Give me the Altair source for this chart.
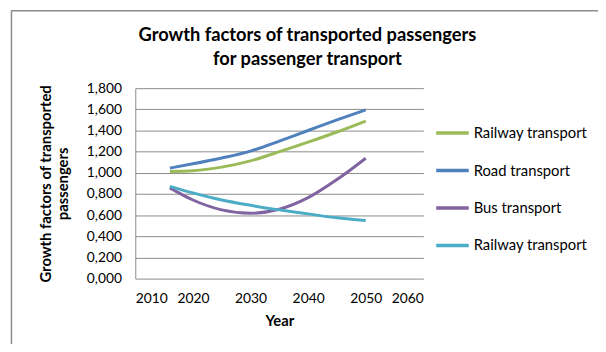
import altair as alt
import pandas as pd

years = [2016, 2020, 2025, 2030, 2035, 2040, 2045, 2050]
railway = [1.013, 1.020, 1.054, 1.113, 1.200, 1.290, 1.386, 1.490]
road = [1.045, 1.085, 1.140, 1.205, 1.300, 1.400, 1.500, 1.595]
bus = [0.858, 0.743, 0.650, 0.618, 0.656, 0.765, 0.936, 1.138]
railway2 = [0.873, 0.810, 0.743, 0.693, 0.650, 0.612, 0.575, 0.550]

series_ids = ["s1", "s2", "s3", "s4"]
series_names = ["Railway transport", "Road transport", "Bus transport", "Railway transport"]
series_values = [railway, road, bus, railway2]
colors = ["#9BBB59", "#4F81BD", "#8064A2", "#4BACC6"]
title_lines = ["Growth factors of transported passengers", "for passenger transport"]

rows = []
for sid, vals in zip(series_ids, series_values):
    for y, v in zip(years, vals):
        rows.append({"year": y, "value": v, "series": sid})
df = pd.DataFrame(rows)

label_expr = " : ".join(
    [f"datum.value == '{sid}' ? '{name}'" for sid, name in zip(series_ids[:-1], series_names[:-1])]
) + f" : '{series_names[-1]}'"

FONT = "Lato"

lines = alt.Chart(df).mark_line(strokeWidth=3, interpolate="monotone").encode(
    x=alt.X("year:Q", scale=alt.Scale(domain=[2010, 2060], nice=False),
            axis=alt.Axis(values=[2010, 2020, 2030, 2040, 2050, 2060], format="d",
                          title="Year", grid=False, ticks=False, domain=False,
                          labelPadding=13, titlePadding=9)),
    y=alt.Y("value:Q", scale=alt.Scale(domain=[0, 1.8], nice=False),
            axis=alt.Axis(values=[0, 0.2, 0.4, 0.6, 0.8, 1.0, 1.2, 1.4, 1.6, 1.8],
                          labelExpr="replace(format(datum.value, '.3f'), '.', ',')",
                          title=["Growth factors of transported", "passengers"],
                          grid=True, ticks=False, domain=True,
                          labelPadding=14, titlePadding=16)),
    color=alt.Color("series:N", scale=alt.Scale(domain=series_ids, range=colors),
                    legend=alt.Legend(title=None, orient="none", legendX=303, legendY=27,
                                      symbolType="stroke", symbolSize=1089,
                                      symbolStrokeWidth=3.5, labelExpr=label_expr,
                                      labelFontSize=15, labelFont=FONT, labelColor="#000",
                                      rowPadding=11, labelOffset=3)),
)

one = alt.Data(values=[{}])
border_top = alt.Chart(one).mark_rule(color="#8c8c8c", strokeWidth=1.5).encode(
    x=alt.value(-126), x2=alt.value(470), y=alt.value(-78.5))
border_left = alt.Chart(one).mark_rule(color="#8c8c8c", strokeWidth=1.5).encode(
    x=alt.value(-125.5), y=alt.value(-78.5), y2=alt.value(270))

title1 = alt.Chart(one).mark_text(
    text=title_lines[0], font=FONT, fontSize=18.5, fontWeight="bold", color="#000",
    align="center", baseline="middle").encode(x=alt.value(174.5), y=alt.value(-54))
title2 = alt.Chart(one).mark_text(
    text=title_lines[1], font=FONT, fontSize=18.5, fontWeight="bold", color="#000",
    align="center", baseline="middle").encode(x=alt.value(174.5), y=alt.value(-30))

chart = alt.layer(lines, border_top, border_left, title1, title2).properties(
    width=292, height=193,
    padding={"left": 129, "top": 79, "right": 177, "bottom": 64},
    autosize=alt.AutoSizeParams(type="none"),
).configure_axis(
    labelFont=FONT, labelFontSize=14, labelColor="#000",
    titleFont=FONT, titleFontSize=15, titleFontWeight="bold", titleColor="#000",
    gridColor="#8a8a8a", gridWidth=1, domainColor="#8a8a8a", domainWidth=1,
).configure_view(stroke=None)

chart.save("out.html", embed_options={"renderer": "svg", "actions": False})
